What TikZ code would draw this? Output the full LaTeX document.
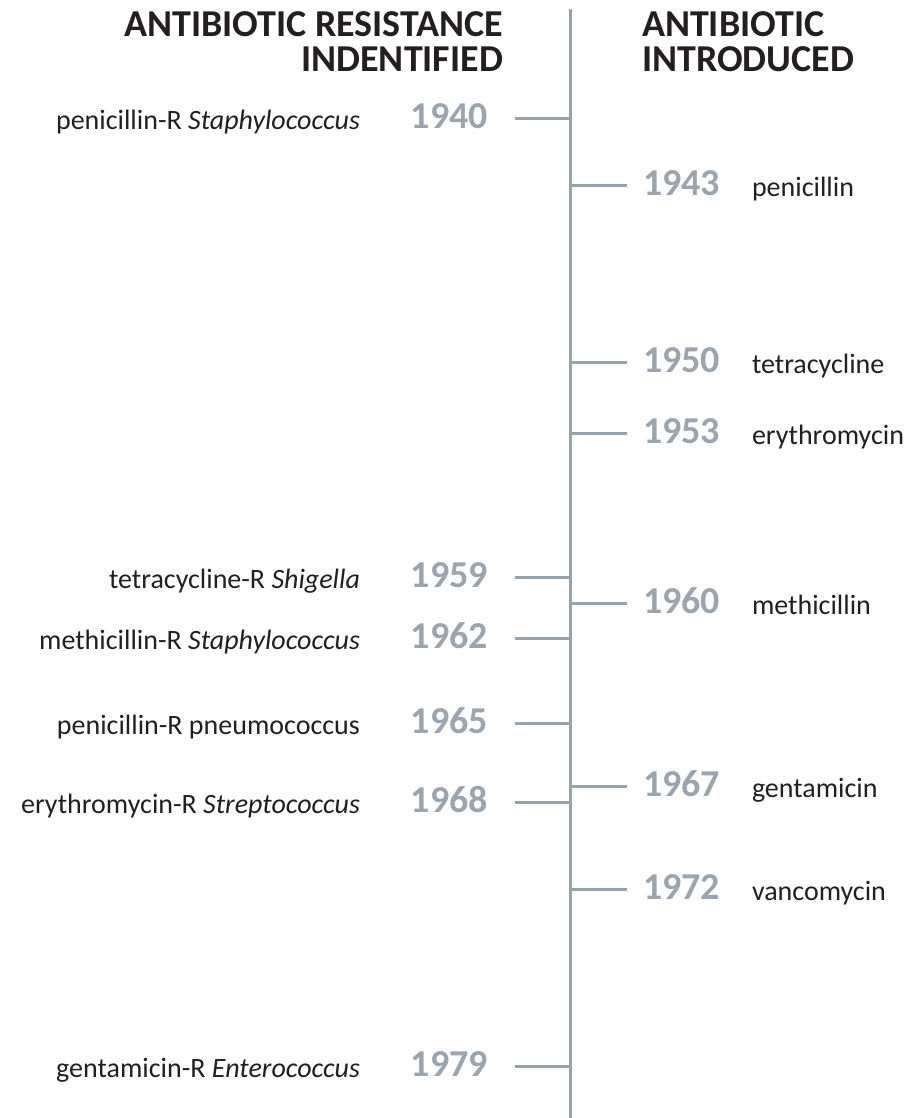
\documentclass[tikz,border=0pt]{standalone}
\usepackage{fontspec}
\setmainfont{Carlito}
\definecolor{axisgray}{HTML}{98A2AA}
\definecolor{yeargray}{HTML}{9CA5AD}
\definecolor{ink}{HTML}{231F20}
\begin{document}
\begin{tikzpicture}[
  x=0.5pt, y=-0.5pt,
  every node/.style={inner sep=0pt, outer sep=0pt, text=ink},
  head/.style={font=\fontsize{19}{17.5}\selectfont\bfseries},
  year/.style={font=\fontsize{19}{19}\selectfont\bfseries, text=yeargray},
  drug/.style={font=\fontsize{14}{14}\selectfont},
  axis/.style={draw=axisgray, line width=1.5pt}
]
\useasboundingbox (0,0) rectangle (913,1118);
\node[head, align=right, anchor=north east] (resist) at (503,12) {ANTIBIOTIC RESISTANCE\\INDENTIFIED};
\node[head, align=left, anchor=north west] (intro) at (642,12) {ANTIBIOTIC\\INTRODUCED};
\coordinate (top) at (570,9);
\coordinate (bot) at (570,1118);
\draw[axis] (top) -- (bot);
% resistance found (left side)
\foreach \yr/\ypos/\what in {
  1940/119/{penicillin-R \textit{Staphylococcus}},
  1959/577/{tetracycline-R \textit{Shigella}},
  1962/638/{methicillin-R \textit{Staphylococcus}},
  1965/723/{penicillin-R pneumococcus},
  1968/802/{erythromycin-R \textit{Streptococcus}},
  1979/1066/{gentamicin-R \textit{Enterococcus}}}{
  \coordinate (r\yr) at (570,\ypos);
  \node[year, anchor=base east] (ry\yr) at (488,{\ypos+10}) {\yr};
  \node[drug, anchor=base east] (rd\yr) at (360,{\ypos+11}) {\what};
  \draw[axis] (r\yr) -- ++(-55,0);
}
% drug introduced (right side)
\foreach \yr/\ypos/\what in {
  1943/186/penicillin,
  1950/362/tetracycline,
  1953/433/erythromycin,
  1960/603/methicillin,
  1967/786/gentamicin,
  1972/889/vancomycin}{
  \coordinate (i\yr) at (570,\ypos);
  \node[year, anchor=base west] (iy\yr) at (643,{\ypos+10}) {\yr};
  \node[drug, anchor=base west] (id\yr) at (752,{\ypos+11}) {\what};
  \draw[axis] (i\yr) -- ++(57,0);
}
\end{tikzpicture}
\end{document}
